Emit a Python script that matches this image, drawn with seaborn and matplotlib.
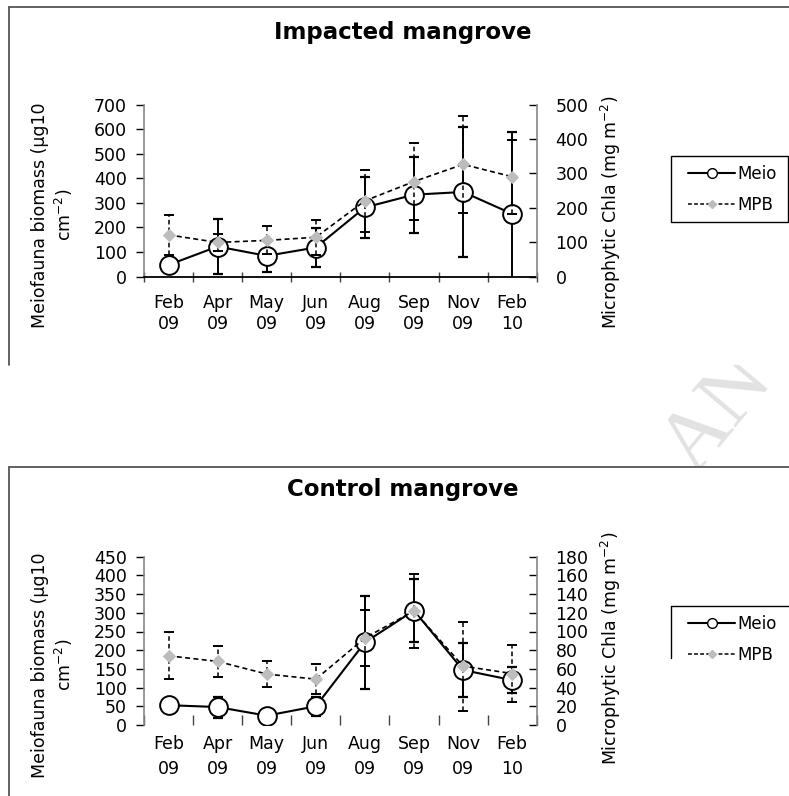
"""
Meiofauna biomass vs microphytobenthos Chla, impacted and control mangrove.
"""

import matplotlib
matplotlib.use('Agg')
import matplotlib.pyplot as plt
from matplotlib.lines import Line2D
from matplotlib.patches import Rectangle
import seaborn as sns
import numpy as np
import pandas as pd

# sampling dates
months = ['Feb\n09', 'Apr\n09', 'May\n09', 'Jun\n09', 'Aug\n09', 'Sep\n09', 'Nov\n09', 'Feb\n10']

# impacted mangrove
imp_meio = [47, 122, 84, 118, 281, 333, 344, 255]
imp_meio_sd = [25, 110, 64, 81, 125, 155, 265, 332]
imp_mpb = [121, 99, 105, 114, 220, 276, 326, 290]
imp_mpb_sd = [58, 24, 41, 51, 91, 111, 141, 108]

# control mangrove
ctl_meio = [53, 48, 25, 50, 221, 306, 147, 120]
ctl_meio_sd = [10, 28, 8, 25, 125, 84, 71, 34]
ctl_mpb = [74, 68, 54.5, 49, 93, 122, 63, 55]
ctl_mpb_sd = [25, 17, 14, 16, 29.5, 39.5, 47.5, 30.5]

W, H = 789, 796


def fx(px):
    return px / W


def fy(py):
    return 1 - py / H


sns.set_style('white')
plt.rcParams['font.family'] = ['DejaVu Sans']
plt.rcParams['mathtext.default'] = 'regular'
plt.rcParams['text.color'] = 'black'
plt.rcParams['xtick.color'] = 'black'
plt.rcParams['ytick.color'] = 'black'
plt.rcParams['axes.labelcolor'] = 'black'

fig = plt.figure(figsize=(W / 100, H / 100), dpi=100)

# watermark (only shows in the gap between panels)
fig.text(fx(718), fy(415), 'AN', rotation=50, fontsize=62, family='Liberation Serif',
         color='#e2e2e2', ha='center', va='center', zorder=-3)


def draw_panel(top, bot, title, title_y, meio, meio_sd, mpb, mpb_sd,
               lmax, lstep, rmax, rstep, ylab_y, ylab2_y, leg_top, box_top, box_bot,
               impacted):
    # white panel area with a partial frame
    fig.add_artist(Rectangle((fx(9), fy(box_bot)), 1 - fx(9), fy(box_top) - fy(box_bot),
                             transform=fig.transFigure, facecolor='white',
                             edgecolor='none', zorder=-2))
    fig.add_artist(Line2D([fx(9), fx(9)], [fy(box_top), fy(box_bot)],
                          transform=fig.transFigure, color='#555555', lw=1.3))
    fig.add_artist(Line2D([fx(9), 1], [fy(box_top), fy(box_top)],
                          transform=fig.transFigure, color='#555555', lw=1.3))

    ax = fig.add_axes([fx(144), fy(bot), fx(536.7) - fx(144), (bot - top) / H])
    ax.patch.set_alpha(0)
    x = np.arange(len(months))
    df = pd.DataFrame({'x': x, 'meio': meio, 'mpb': mpb})

    ax.errorbar(x, meio, yerr=meio_sd, fmt='none', ecolor='black',
                elinewidth=1.4, capsize=3.5, capthick=1.6, zorder=2)
    sns.lineplot(data=df, x='x', y='meio', ax=ax, color='black', lw=1.5,
                 marker='o', markersize=13.5, markerfacecolor='white',
                 markeredgecolor='black', markeredgewidth=1.4, legend=False, zorder=3)

    ax2 = ax.twinx()
    eb = ax2.errorbar(x, mpb, yerr=mpb_sd, fmt='none', ecolor='black',
                      elinewidth=1.1, capsize=3.5, capthick=1.4, zorder=2)
    for lc in eb[2]:
        lc.set_linestyle((0, (3, 2)))
    sns.lineplot(data=df, x='x', y='mpb', ax=ax2, color='black', lw=1.2,
                 linestyle=(0, (3, 2)), marker='D', markersize=6,
                 markerfacecolor='#bdbdbd', markeredgecolor='#bdbdbd', legend=False, zorder=3)

    ax.set_xlim(-0.5, len(months) - 0.5)
    ax.set_ylim(0, lmax)
    ax2.set_ylim(0, rmax)
    ax.set_yticks(np.arange(0, lmax + 1, lstep))
    ax2.set_yticks(np.arange(0, rmax + 1, rstep))
    ax.set_xlabel('')
    ax.set_ylabel('')
    ax2.set_ylabel('')

    ax.set_xticks(x)
    ax.set_xticklabels(months)
    ax.set_xticks(np.arange(-0.5, len(months)), minor=True)
    for lab in ax.get_xticklabels():
        lab.set_linespacing(1.25 if impacted else 1.45)

    ax.tick_params(axis='y', which='major', direction='out', length=5.5, width=1,
                   color='black', labelsize=12.5, pad=7, left=True)
    ax2.tick_params(axis='y', which='major', direction='in', length=5.5, width=1,
                    color='black', labelsize=12.5, pad=13.5, right=True)
    ax.tick_params(axis='x', which='major', length=0, labelsize=12.5,
                   pad=12.5 if impacted else 7.5)
    ax.tick_params(axis='x', which='minor', length=7 if impacted else 7.5,
                   direction='inout' if impacted else 'in', width=1, color='#444444',
                   bottom=True)

    for a in (ax, ax2):
        a.spines['top'].set_visible(False)
    ax.spines['right'].set_visible(False)
    ax2.spines['left'].set_visible(False)
    ax2.spines['bottom'].set_visible(False)
    ax.spines['left'].set_color('#888888')
    ax.spines['left'].set_linewidth(1.2)
    ax2.spines['right'].set_color('#888888')
    ax2.spines['right'].set_linewidth(1.2)
    ax.spines['bottom'].set_color('black')
    ax.spines['bottom'].set_linewidth(1.3)
    ax.spines['bottom'].set_visible(impacted)

    fig.text(fx(403), fy(title_y), title, ha='center', va='center',
             fontsize=16.5, weight='bold')
    fig.text(fx(53), fy(ylab_y), 'Meiofauna biomass (µg10\ncm$^{-2}$)', rotation=90,
             ha='center', va='center', multialignment='center', fontsize=12.5,
             linespacing=1.25)
    fig.text(fx(611), fy(ylab2_y), 'Microphytic Chla (mg m$^{-2}$)', rotation=90,
             ha='center', va='center', fontsize=12.5)

    handles = [
        Line2D([], [], color='black', lw=1.5, marker='o', markersize=7,
               markerfacecolor='white', markeredgecolor='black', markeredgewidth=1),
        Line2D([], [], color='black', lw=1.1, linestyle=(0, (2.5, 1.5)), marker='D',
               markersize=4, markerfacecolor='#bdbdbd', markeredgecolor='#bdbdbd'),
    ]
    fig.legend(handles, ['Meio', 'MPB'], loc='upper left',
               bbox_to_anchor=(fx(679), fy(leg_top)), bbox_transform=fig.transFigure,
               frameon=False, fontsize=12, handlelength=2.8, handletextpad=0.15,
               labelspacing=0.75, borderpad=0.55, borderaxespad=0)

    # legend frame (the lower one is only partly drawn in the source)
    if impacted:
        fig.add_artist(Rectangle((fx(671), fy(leg_top + 66)), fx(788) - fx(671), 66 / H,
                                 transform=fig.transFigure, facecolor='none',
                                 edgecolor='black', lw=1))
    else:
        fig.add_artist(Line2D([fx(671), 1], [fy(leg_top), fy(leg_top)],
                              transform=fig.transFigure, color='black', lw=1))
        fig.add_artist(Line2D([fx(671), fx(671)], [fy(leg_top), fy(leg_top + 52)],
                              transform=fig.transFigure, color='black', lw=1))


draw_panel(104.5, 276.5, 'Impacted mangrove', 33, imp_meio, imp_meio_sd, imp_mpb, imp_mpb_sd,
           700, 100, 500, 100, 215, 212, 156, 7, 365, True)
draw_panel(556.7, 725, 'Control mangrove', 490, ctl_meio, ctl_meio_sd, ctl_mpb, ctl_mpb_sd,
           450, 50, 180, 20, 665, 648, 606, 467, 800, False)

fig.savefig('out.png', dpi=100)
